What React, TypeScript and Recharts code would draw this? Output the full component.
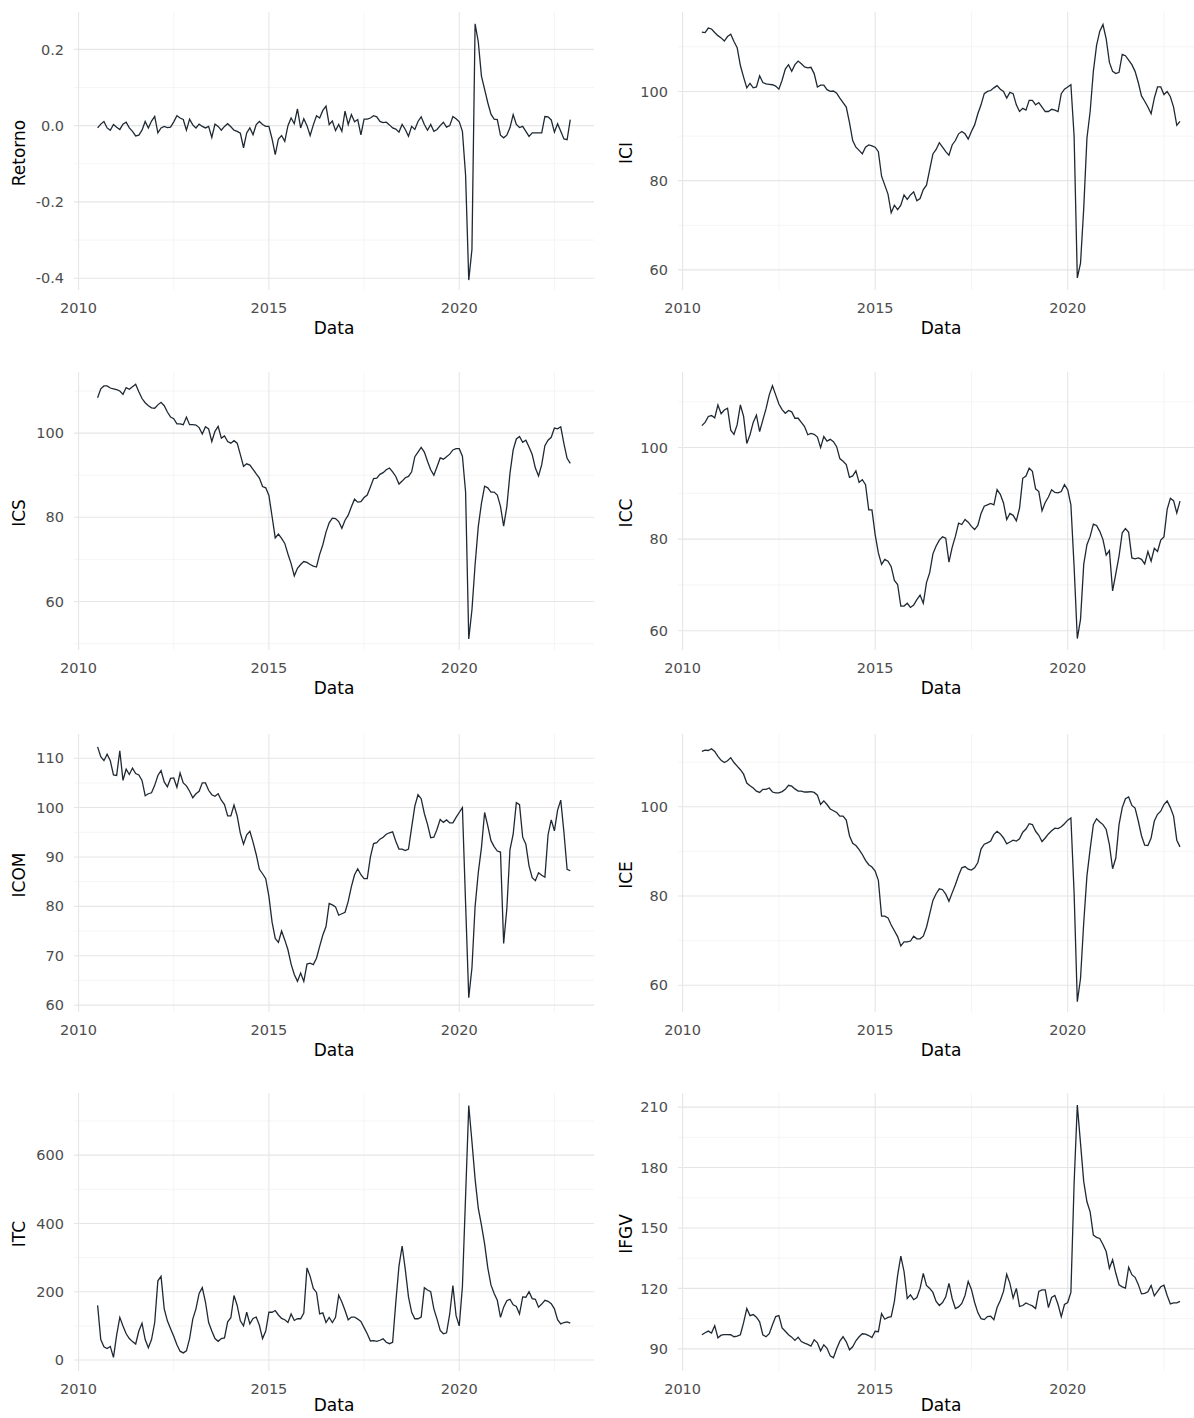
import React from 'react';
import { LineChart, Line, XAxis, YAxis, CartesianGrid } from 'recharts';

// série mensal: jul/2010 a dez/2022
const START_YEAR = 2010;
const START_MONTH = 7;
const N_MONTHS = 150;
const dates = Array.from({ length: N_MONTHS }, (_, i) => START_YEAR + (START_MONTH - 1 + i) / 12);

const yearTicks = [2010, 2015, 2020];
const yearMinor = [2012.5, 2017.5, 2022.5];
const xDomain: [number, number] = [2009.88, 2023.54];

const retorno = [
  -0.006, 0.004, 0.011, -0.006, -0.012, 0.003,
  -0.004, -0.01, 0.004, 0.009, -0.006, -0.015, -0.027, -0.025, -0.012, 0.011, -0.006, 0.012,
  0.024, -0.019, -0.006, -0.002, -0.005, -0.004, 0.01, 0.026, 0.02, 0.016, -0.012, 0.017,
  0.002, -0.006, 0.004, -0.002, -0.006, -0.002, -0.031, 0.004, -0.002, -0.012, -0.002, 0.005,
  -0.003, -0.012, -0.015, -0.02, -0.058, -0.019, -0.006, -0.024, 0.003, 0.011, 0.003, -0.002,
  -0.002, -0.035, -0.076, -0.035, -0.026, -0.041, 0.0, 0.02, 0.005, 0.044, -0.006, 0.018,
  0.0, -0.026, 0.002, 0.026, 0.02, 0.04, 0.051, 0.003, 0.012, -0.013, 0.003, -0.015,
  0.038, 0.003, 0.029, 0.01, 0.016, -0.024, 0.017, 0.017, 0.02, 0.026, 0.023, 0.011,
  0.008, 0.009, 0.002, -0.006, -0.009, -0.017, 0.003, -0.01, -0.028, -0.002, -0.01, 0.011,
  0.023, 0.003, -0.012, 0.003, -0.015, -0.01, 0.0, 0.009, -0.004, 0.0, 0.024, 0.018,
  0.01, -0.015, -0.13, -0.405, -0.325, 0.267, 0.22, 0.13, 0.095, 0.06, 0.03, 0.017,
  0.016, -0.025, -0.032, -0.025, -0.005, 0.029, 0.003, -0.005, -0.002, -0.015, -0.028, -0.019,
  -0.019, -0.019, -0.019, 0.024, 0.023, 0.015, -0.017, 0.005, -0.015, -0.035, -0.037, 0.016,
];

const ici = [
  113.3, 113.2, 114.2, 114.0, 113.2, 112.5,
  112.0, 111.3, 112.3, 112.8, 111.2, 109.8, 105.8, 103.2, 100.8, 101.8, 100.8, 101.0,
  103.5, 102.0, 101.7, 101.6, 101.5, 101.2, 100.5, 102.5, 105.0, 106.0, 104.5, 106.0,
  106.8, 106.2, 105.5, 105.3, 105.4, 104.0, 101.0, 101.4, 101.4, 100.4, 100.0, 100.1,
  99.6, 98.5, 97.5, 96.5, 93.0, 89.0, 87.5, 86.8, 86.0, 87.5, 88.0, 87.8,
  87.5, 86.5, 81.0, 79.0, 77.0, 72.8, 74.5, 73.5, 74.5, 76.8, 75.8, 76.8,
  77.5, 75.5, 76.0, 78.0, 79.0, 82.5, 86.0, 87.0, 88.5, 87.5, 86.5, 85.7,
  88.0, 89.0, 90.5, 91.0, 90.5, 89.3, 91.0, 92.5, 95.0, 97.0, 99.5, 100.0,
  100.2, 100.8, 101.3, 100.5, 100.0, 98.5, 99.8, 99.5, 97.0, 95.5, 96.2, 95.8,
  98.0, 98.0, 97.0, 97.5, 96.5, 95.5, 95.5, 96.0, 95.8, 95.5, 99.5, 100.5,
  101.0, 101.5, 90.0, 58.2, 61.5, 73.8, 89.5, 95.5, 104.5, 110.3, 113.5, 115.0,
  111.8, 106.5, 104.5, 104.0, 104.3, 108.3, 108.0, 107.0, 106.0, 104.5, 102.0, 99.0,
  97.8, 96.5, 95.0, 98.5, 101.0, 101.0, 99.3, 100.0, 98.8, 96.5, 92.4, 93.3,
];

const ics = [
  108.4, 110.5, 111.2, 111.2, 110.7, 110.5,
  110.3, 110.0, 109.2, 110.8, 110.4, 111.0, 111.6, 109.8, 108.2, 107.2, 106.5, 106.0,
  105.9, 106.7, 107.3, 106.5, 105.0, 103.8, 103.4, 102.2, 102.2, 102.0, 103.8, 102.0,
  102.0, 101.9, 101.3, 99.8, 101.5, 101.0, 98.0, 100.4, 101.6, 98.8, 99.3, 98.0,
  97.6, 98.2, 97.6, 94.9, 92.1, 92.7, 92.4, 91.4, 90.3, 89.3, 87.3, 87.0,
  85.2, 80.2, 75.1, 76.0, 75.0, 73.8, 71.3, 69.0, 66.1, 67.9, 68.8, 69.5,
  69.3, 68.8, 68.4, 68.2, 71.2, 73.5, 76.5, 78.7, 79.8, 79.7, 79.0, 77.4,
  79.3, 80.5, 82.5, 84.3, 83.6, 83.7, 84.7, 85.3, 87.2, 89.2, 89.3, 90.2,
  90.6, 91.3, 91.7, 90.8, 89.7, 87.9, 88.6, 89.4, 89.7, 90.8, 94.4, 95.5,
  96.6, 95.5, 93.3, 91.3, 90.0, 92.0, 94.1, 93.8, 94.4, 95.0, 96.0, 96.3,
  96.3, 94.5, 86.0, 51.1, 58.0, 68.8, 77.8, 83.3, 87.4, 87.0, 86.0, 86.0,
  85.3, 82.6, 77.9, 82.5, 90.5, 96.0, 98.6, 99.2, 97.8, 98.3, 96.7, 94.9,
  91.7, 89.8, 92.5, 97.0, 98.3, 99.0, 101.2, 101.0, 101.5, 97.5, 94.0, 92.8,
];

const icc = [
  104.8, 105.5, 106.8, 107.0, 106.5, 109.3,
  107.4, 108.2, 108.6, 103.8, 102.9, 105.0, 109.3, 106.8, 100.9, 102.8, 105.5, 107.1,
  103.5, 106.0, 108.5, 111.5, 113.5, 111.5, 109.5, 108.3, 107.5, 108.1, 107.8, 106.4,
  106.4, 105.5, 104.6, 102.8, 103.1, 102.9, 102.3, 100.0, 102.4, 101.4, 101.8, 101.3,
  100.2, 97.6, 97.0, 96.3, 93.5, 93.8, 94.9, 92.4, 93.0, 91.9, 86.4, 86.4,
  81.0, 77.0, 74.5, 75.6, 75.2, 74.0, 71.0, 70.1, 65.4, 65.4, 66.0, 65.1,
  65.6, 66.8, 67.8, 66.0, 70.5, 72.7, 76.8, 78.5, 79.8, 80.5, 80.2, 75.0,
  78.2, 80.6, 83.5, 83.2, 84.3, 83.7, 82.8, 82.1, 83.0, 85.6, 87.2, 87.5,
  87.8, 87.5, 90.8, 89.8, 87.9, 84.3, 85.6, 85.2, 84.0, 86.8, 93.3, 93.8,
  95.5, 94.8, 91.0, 90.4, 86.2, 88.0, 89.2, 90.8, 90.2, 90.1, 90.4, 91.9,
  90.8, 87.5, 74.0, 58.3, 62.5, 74.5, 78.8, 80.6, 83.3, 83.0, 81.7, 79.9,
  76.5, 77.5, 68.7, 72.5, 76.3, 81.4, 82.3, 81.5, 75.9, 75.7, 75.9, 75.6,
  74.6, 77.3, 75.2, 78.0, 77.3, 79.8, 80.5, 86.5, 88.9, 88.4, 85.7, 88.3,
];

const icom = [
  112.3, 110.3, 109.5, 110.8, 109.5, 106.6,
  106.5, 111.5, 105.5, 107.8, 106.7, 108.0, 106.9, 106.6, 105.5, 102.4, 102.8, 103.0,
  104.5, 106.5, 107.5, 105.2, 104.2, 105.9, 106.0, 104.1, 107.0, 105.0, 104.4, 103.3,
  102.0, 102.8, 103.3, 105.0, 105.0, 103.5, 102.6, 102.3, 102.8, 101.5, 100.6, 98.3,
  98.3, 100.5, 98.3, 94.8, 92.6, 94.5, 95.2, 93.0, 90.5, 87.5, 86.6, 85.6,
  82.0, 76.8, 73.5, 72.7, 75.0, 73.2, 71.2, 68.3, 66.2, 64.8, 66.5, 64.8,
  68.3, 68.5, 68.2, 69.5, 71.9, 74.2, 75.9, 80.6, 80.3, 79.9, 78.2, 78.5,
  78.8, 81.0, 84.0, 86.4, 87.6, 86.4, 85.6, 85.6, 90.0, 92.7, 92.9, 93.6,
  94.0, 94.6, 94.9, 95.1, 93.2, 91.6, 91.6, 91.3, 91.6, 96.0, 100.3, 102.6,
  101.8, 98.8, 96.6, 93.9, 94.0, 95.6, 97.6, 97.0, 97.5, 96.9, 96.9, 98.0,
  99.0, 100.0, 80.6, 61.5, 67.5, 80.0, 86.8, 91.9, 99.0, 96.3, 93.3, 92.1,
  91.2, 91.0, 72.5, 79.5, 91.5, 94.6, 101.0, 100.6, 94.0, 92.6, 88.2, 85.8,
  85.2, 86.8, 86.3, 85.9, 94.5, 97.5, 95.3, 99.5, 101.5, 95.0, 87.5, 87.2,
];

const ice = [
  112.4, 112.7, 112.6, 113.0, 112.4, 111.3,
  110.4, 109.9, 110.3, 111.0, 109.9, 109.1, 108.3, 107.3, 105.3, 104.7, 104.2, 103.5,
  103.2, 103.9, 103.9, 104.2, 103.3, 103.1, 103.1, 103.4, 103.9, 104.8, 104.6, 104.0,
  103.5, 103.5, 103.3, 103.3, 103.4, 103.2, 102.6, 100.5, 101.3, 100.5, 99.5, 99.1,
  98.7, 97.9, 97.9, 97.0, 93.5, 91.8, 91.3, 90.4, 89.3, 88.0, 87.0, 86.5,
  85.6, 83.5, 75.5, 75.5, 75.1, 73.5, 72.2, 70.9, 68.8, 69.7, 69.7, 69.9,
  71.0, 70.4, 70.4, 71.0, 73.0, 76.0, 79.0, 80.5, 81.6, 81.4, 80.4, 78.8,
  80.7, 82.5, 84.6, 86.3, 86.6, 86.0, 85.8, 86.3, 87.5, 90.5, 91.6, 91.9,
  92.3, 93.8, 94.5, 93.9, 93.0, 91.7, 92.1, 92.5, 92.3, 92.8, 94.3, 95.0,
  96.2, 96.0, 94.5, 93.6, 92.2, 93.0, 93.9, 94.6, 95.2, 95.1, 95.5, 96.2,
  97.0, 97.5, 80.7, 56.3, 61.5, 74.0, 84.5, 90.5, 96.0, 97.3, 96.6, 96.0,
  94.9, 91.5, 86.1, 88.5, 96.0, 99.8, 101.8, 102.2, 100.3, 99.7, 96.8, 93.5,
  91.4, 91.3, 93.0, 96.8, 98.3, 99.0, 100.5, 101.3, 99.8, 97.9, 92.5, 91.0,
];

const itc = [
  160, 60, 39, 34, 40, 8,
  73, 125, 100, 77, 63, 54, 47, 85, 108, 60, 36, 60,
  110, 232, 245, 150, 115, 92, 70, 45, 26, 21, 27, 63,
  120, 150, 195, 212, 170, 110, 85, 63, 55, 63, 65, 112,
  124, 189, 160, 115, 100, 140, 106, 122, 126, 102, 63, 85,
  140, 140, 145, 132, 122, 118, 110, 135, 116, 121, 121, 138,
  270, 245, 210, 198, 135, 138, 110, 125, 110, 125, 190, 170,
  145, 118, 126, 126, 120, 113, 95, 77, 56, 57, 55, 58,
  62, 52, 48, 52, 169, 275, 334, 265, 185, 140, 121, 121,
  126, 212, 205, 200, 150, 120, 87, 77, 80, 135, 218, 130,
  100, 215, 480, 745, 640, 530, 445, 395, 340, 270, 220, 195,
  175, 125, 155, 174, 178, 162, 157, 135, 185, 184, 200, 180,
  178, 155, 164, 175, 172, 165, 150, 118, 106, 110, 112, 108,
];

const ifgv = [
  97.0, 98.0, 98.8, 97.8, 101.5, 95.5,
  96.8, 97.1, 97.1, 97.0, 96.0, 96.3, 97.0, 103.0, 110.0, 106.5, 107.0, 105.7,
  103.4, 97.0, 96.0, 97.5, 102.0, 106.0, 106.5, 100.4, 98.7, 97.0, 95.8, 94.2,
  95.8, 93.6, 92.8, 92.2, 91.4, 94.5, 93.0, 89.0, 92.0, 90.3, 86.5, 85.6,
  90.0, 93.8, 96.0, 93.5, 89.5, 91.0, 94.0, 96.0, 97.5, 97.3, 96.6, 95.6,
  98.7, 98.5, 107.5, 104.7, 105.6, 106.0, 113.6, 126.5, 136.0, 128.4, 115.0, 116.8,
  114.4, 115.5, 120.0, 127.5, 121.5, 120.0, 118.0, 113.5, 111.5, 113.0, 115.8, 122.5,
  115.0, 110.0, 110.8, 112.5, 116.5, 123.5, 119.5, 113.0, 108.0, 105.0, 104.5, 106.0,
  106.2, 104.5, 110.5, 114.0, 118.5, 127.0, 122.5, 115.2, 120.0, 111.1, 111.5, 112.8,
  112.0, 111.3, 110.0, 118.5, 119.3, 119.3, 110.5, 115.5, 116.5, 112.0, 106.0, 112.0,
  113.0, 118.0, 172.0, 211.0, 192.0, 173.0, 163.0, 158.0, 146.5, 145.3, 144.8, 141.8,
  138.3, 130.0, 134.2, 127.5, 121.8, 120.8, 120.2, 130.5, 126.8, 125.5, 122.0, 117.3,
  117.5, 118.3, 121.5, 116.3, 118.5, 120.8, 121.6, 116.5, 112.3, 112.8, 112.8, 113.6,
];

interface PanelDef {
  name: string;
  values: number[];
  domain: [number, number];
  ticks: number[];
  minor: number[];
  fmt?: (v: number) => string;
}

// ordem: linha a linha, esquerda -> direita
const panels: PanelDef[] = [
  { name: 'Retorno', values: retorno, domain: [-0.431, 0.298], ticks: [-0.4, -0.2, 0, 0.2], minor: [-0.3, -0.1, 0.1], fmt: (v) => v.toFixed(1) },
  { name: 'ICI', values: ici, domain: [55.5, 117.8], ticks: [60, 80, 100], minor: [70, 90, 110] },
  { name: 'ICS', values: ics, domain: [48.5, 114.5], ticks: [60, 80, 100], minor: [50, 70, 90, 110] },
  { name: 'ICC', values: icc, domain: [55.8, 116.5], ticks: [60, 80, 100], minor: [70, 90, 110] },
  { name: 'ICOM', values: icom, domain: [58.6, 114.9], ticks: [60, 70, 80, 90, 100, 110], minor: [65, 75, 85, 95, 105] },
  { name: 'ICE', values: ice, domain: [54, 116.3], ticks: [60, 80, 100], minor: [70, 90, 110] },
  { name: 'ITC', values: itc, domain: [-32, 782], ticks: [0, 200, 400, 600], minor: [100, 300, 500, 700] },
  { name: 'IFGV', values: ifgv, domain: [79, 217], ticks: [90, 120, 150, 180, 210], minor: [105, 135, 165, 195] },
];

interface ColDef {
  left: number;
  width: number;
  axisWidth: number;
  plotWidth: number;
  titleX: number;
}

const COLS: ColDef[] = [
  { left: 0, width: 597, axisWidth: 74, plotWidth: 520, titleX: 19 },
  { left: 597, width: 620, axisWidth: 81, plotWidth: 526, titleX: 29 },
];
const ROW_TOPS = [0, 360, 722, 1081];
// última linha fica colada na borda da imagem: rótulo "Data" um pouco mais alto
const LABEL_OFFSETS = [6, 6, 6, 10];
const CHART_H = 360;

const tickStyle = { fill: '#4D4D4D', fontSize: 14.5, fontFamily: 'DejaVu Sans' };

const Panel: React.FC<{ def: PanelDef; col: ColDef; top: number; labelOffset: number }> = ({ def, col, top, labelOffset }) => {
  const data = dates.map((t, i) => ({ t, v: def.values[i] }));
  return (
    <div style={{ position: 'absolute', left: col.left, top, width: col.width, height: CHART_H }}>
      <LineChart
        width={col.width}
        height={CHART_H}
        data={data}
        margin={{ top: 12, right: col.width - col.axisWidth - col.plotWidth, bottom: 20, left: 0 }}
      >
        <CartesianGrid stroke="#F0F0F0" strokeWidth={0.7} horizontalValues={def.minor} verticalValues={yearMinor} />
        <CartesianGrid stroke="#E6E6E6" strokeWidth={1.1} horizontalValues={def.ticks} verticalValues={yearTicks} />
        <XAxis
          dataKey="t"
          type="number"
          domain={xDomain}
          ticks={yearTicks}
          allowDataOverflow
          tickLine={false}
          axisLine={false}
          tickMargin={7}
          height={50}
          tick={tickStyle}
          label={{ value: 'Data', position: 'insideBottom', offset: labelOffset, fill: '#000', fontSize: 17, fontFamily: 'DejaVu Sans' }}
        />
        <YAxis
          type="number"
          domain={def.domain}
          ticks={def.ticks}
          allowDataOverflow
          interval={0}
          width={col.axisWidth}
          tickLine={false}
          axisLine={false}
          tickMargin={4}
          tick={tickStyle}
          tickFormatter={def.fmt ?? ((v: number) => String(v))}
        />
        <Line type="linear" dataKey="v" stroke="#1f2933" strokeWidth={1.3} dot={false} isAnimationActive={false} />
      </LineChart>
      <div
        style={{
          position: 'absolute',
          left: col.titleX,
          top: 153,
          transform: 'translate(-50%, -50%) rotate(-90deg)',
          whiteSpace: 'nowrap',
          fontSize: 17,
          lineHeight: 1,
          color: '#000',
        }}
      >
        {def.name}
      </div>
    </div>
  );
};

const App: React.FC = () => (
  <div
    style={{
      position: 'absolute',
      left: 0,
      top: 0,
      width: 1194,
      height: 1418,
      overflow: 'hidden',
      background: '#fff',
      fontFamily: 'DejaVu Sans, sans-serif',
    }}
  >
    {panels.map((p, i) => (
      <Panel
        key={p.name}
        def={p}
        col={COLS[i % 2]}
        top={ROW_TOPS[Math.floor(i / 2)]}
        labelOffset={LABEL_OFFSETS[Math.floor(i / 2)]}
      />
    ))}
  </div>
);

export default App;
